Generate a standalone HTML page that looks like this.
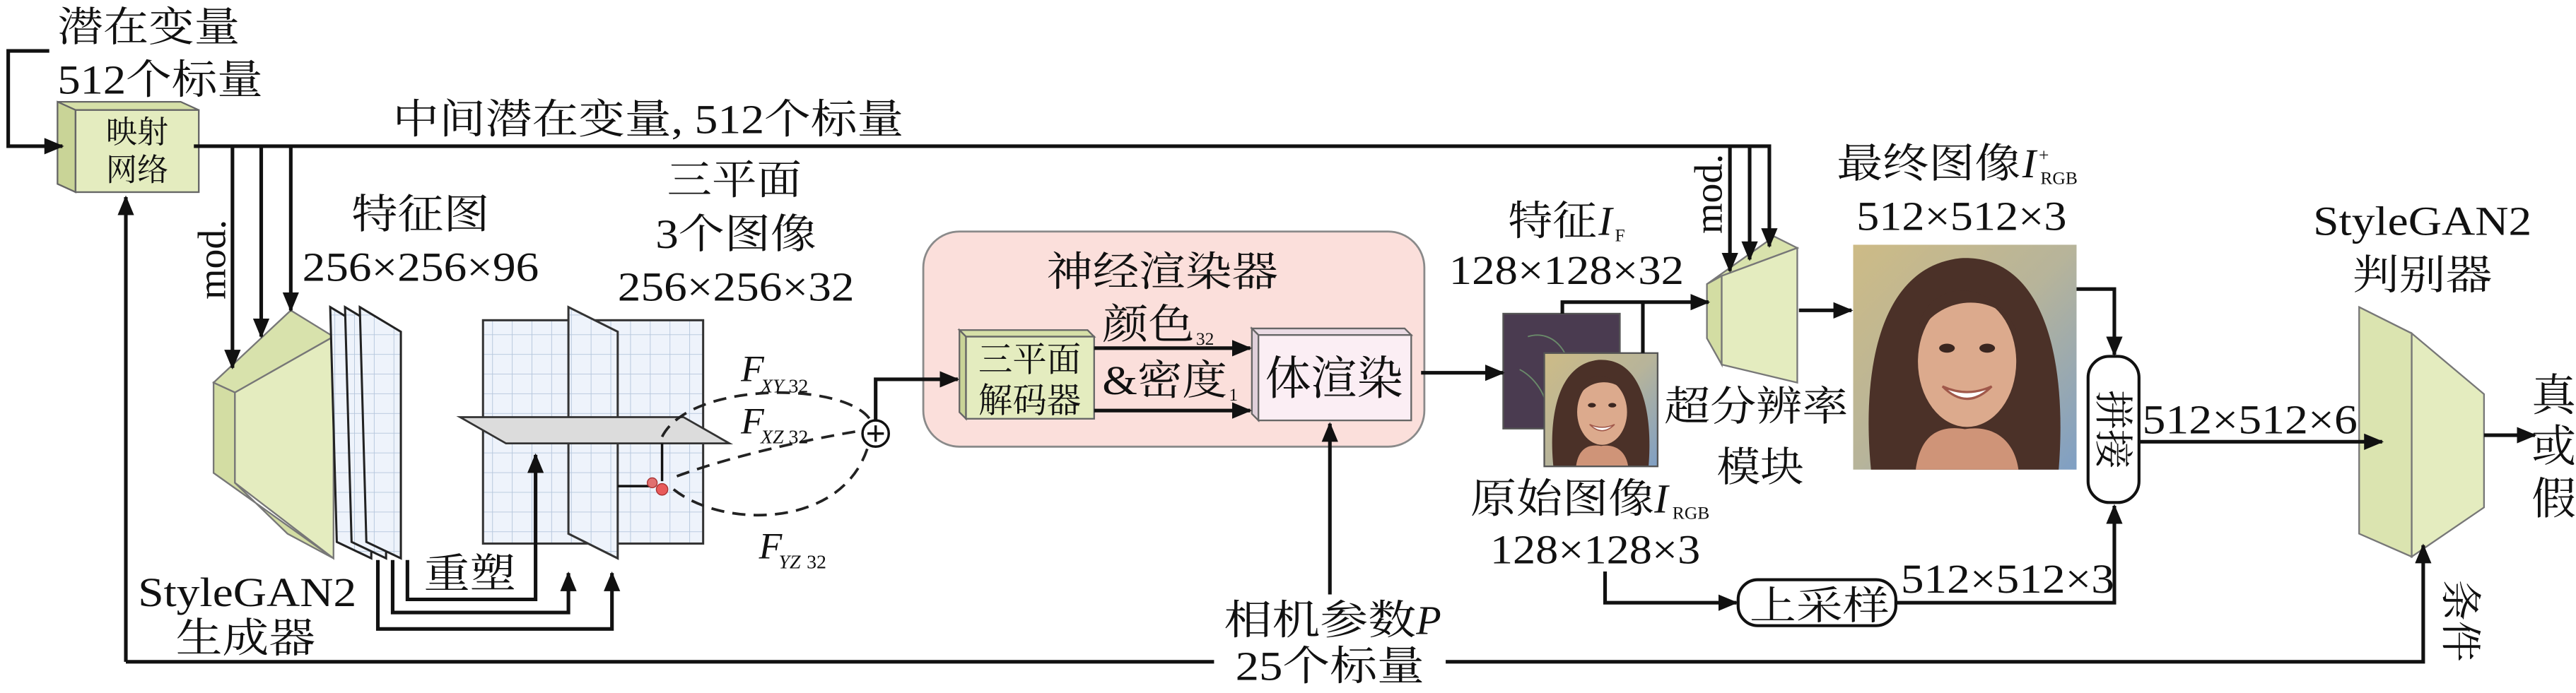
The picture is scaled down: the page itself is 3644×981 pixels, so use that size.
<!DOCTYPE html>
<html><head><meta charset="utf-8"><style>
html,body{margin:0;padding:0;background:#fff;}
svg{display:block;}
text{font-family:"Liberation Serif","Noto Serif CJK SC",serif;fill:#111;}
</style></head><body>
<svg width="3644" height="981" viewBox="0 0 1568 422" preserveAspectRatio="none" xmlns="http://www.w3.org/2000/svg">
<defs>
<marker id="a" markerWidth="12" markerHeight="10" refX="11" refY="5" orient="auto" markerUnits="userSpaceOnUse">
<path d="M0,0 L12,5 L0,10 Z" fill="#111"/></marker>
<linearGradient id="bg" x1="0" y1="0" x2="1" y2="1">
<stop offset="0" stop-color="#cdbb86"/><stop offset="0.5" stop-color="#b7b49a"/><stop offset="1" stop-color="#7f9fc4"/></linearGradient>
<pattern id="grid" width="12" height="12" patternUnits="userSpaceOnUse">
<rect width="12" height="12" fill="#eef3fb"/><path d="M12,0 V12 M0,12 H12" stroke="#b5c6dc" stroke-width="0.8" fill="none"/></pattern>
<symbol id="face" viewBox="0 0 100 100" preserveAspectRatio="none">
<rect width="100" height="100" fill="url(#bg)"/>
<path d="M8,100 C4,60 10,10 48,6 C85,4 96,50 92,100 Z" fill="#4b3128"/>
<path d="M28,100 C30,85 38,80 50,82 C62,80 72,86 74,100 Z" fill="#cf9478"/>
<ellipse cx="51" cy="52" rx="22" ry="29" fill="#dcaa8d"/>
<path d="M29,40 C30,18 60,10 74,40 C68,22 40,20 29,40Z" fill="#4b3128"/>
<ellipse cx="42" cy="46" rx="3.5" ry="2" fill="#3a2620"/><ellipse cx="60" cy="46" rx="3.5" ry="2" fill="#3a2620"/>
<path d="M40,63 Q51,74 62,63 Q51,68 40,63Z" fill="#fff" stroke="#a0584a" stroke-width="1"/>
</symbol>
</defs>

<g stroke="#666" stroke-width="1">
<polygon points="35,62 110,62 121,67 46,67" fill="#d6e0a8"/>
<polygon points="35,62 46,67 46,117 35,112" fill="#c9d497"/>
<rect x="46" y="67" width="75" height="50" fill="#e4ecbf"/>
</g>
<text x="83.5" y="87" font-size="19" text-anchor="middle">映射</text>
<text x="83.5" y="110" font-size="19" text-anchor="middle">网络</text>

<g stroke="#777" stroke-width="1">
<polygon points="130,233 177,189 203,205 143,239" fill="#d8e2ac"/>
<polygon points="130,233 143,239 143,294 175,325 203,340 130,288" fill="#d3dda3"/>
<polygon points="143,239 203,205 203,340 143,294" fill="#e4ecbf"/>
</g>
<g stroke="#222" stroke-width="1.3">
<polygon points="201,187 226,202 226,340 205,330" fill="url(#grid)"/>
<polygon points="210,187 235,202 235,340 214,330" fill="url(#grid)"/>
<polygon points="219,187 244,202 244,340 223,330" fill="url(#grid)"/>
</g>

<rect x="294" y="195" width="134" height="136" fill="url(#grid)" stroke="#333" stroke-width="1.3"/>
<polygon points="346,187 376,202 376,340 346,325" fill="url(#grid)" stroke="#333" stroke-width="1.3"/>
<polygon points="280,254 308,270 444,270 416,254" fill="#dcdcdc" stroke="#333" stroke-width="1.2"/>
<path d="M403,270 V293 M376,296 H396" stroke="#111" stroke-width="1.5"/>
<circle cx="397" cy="294" r="3" fill="#e07070" stroke="#a33" stroke-width="0.6"/>
<circle cx="403" cy="298" r="3.5" fill="#e85a5a" stroke="#a33" stroke-width="0.6"/>
<g stroke="#222" stroke-width="1.6" fill="none" stroke-dasharray="8,5">
<path d="M403,266 C420,232 515,232 530,256"/>
<path d="M412,290 C450,276 500,266 526,262"/>
<path d="M410,298 C440,322 512,322 528,273"/>
</g>

<rect x="562" y="141" width="305" height="131" rx="22" fill="#fbdfdb" stroke="#8a8a8a" stroke-width="1.2"/>
<g stroke="#666" stroke-width="1">
<polygon points="584,201 662,201 666,205 588,205" fill="#d6e0a8"/>
<polygon points="584,201 588,205 588,255 584,251" fill="#c9d497"/>
<rect x="588" y="205" width="78" height="50" fill="#e4ecbf"/>
<polygon points="762,200 855,200 859,204 766,204" fill="#eadbe4"/>
<polygon points="762,200 766,204 766,256 762,252" fill="#e0d0da"/>
<rect x="766" y="204" width="93" height="52" fill="#fbeef4"/>
</g>
<text x="595.5" y="226" font-size="21" textLength="62.5" lengthAdjust="spacingAndGlyphs">三平面</text>
<text x="595.5" y="251" font-size="21" textLength="62.5" lengthAdjust="spacingAndGlyphs">解码器</text>
<text x="770" y="240" font-size="28" textLength="84" lengthAdjust="spacingAndGlyphs">体渲染</text>

<rect x="915" y="191" width="71" height="70" fill="#4a3b50" stroke="#555" stroke-width="1"/>
<path d="M930,205 C945,200 960,215 955,240 M925,225 C935,230 945,245 940,255" stroke="#6a8a6a" stroke-width="0.8" fill="none"/>
<use href="#face" x="940" y="215" width="69" height="69"/>
<rect x="940" y="215" width="69" height="69" fill="none" stroke="#555" stroke-width="1"/>

<g stroke="#777" stroke-width="1">
<polygon points="1039,173 1080,144 1094,151 1048,168" fill="#d8e2ac"/>
<polygon points="1039,173 1048,168 1048,222 1039,206" fill="#d3dda3"/>
<polygon points="1048,168 1094,151 1094,233 1048,222" fill="#e4ecbf"/>
</g>
<use href="#face" x="1128" y="149" width="136" height="137"/>
<g stroke="#777" stroke-width="1">
<polygon points="1436,187 1468,203 1468,339 1436,325" fill="#dbe4b0"/>
<polygon points="1468,203 1512,240 1512,309 1468,339" fill="#e4ecbf"/>
</g>

<g stroke="#111" stroke-width="2.2" fill="none">
<path d="M30,31 H5 V89 H38" marker-end="url(#a)"/>
<path d="M118,89 H1077 V150" marker-end="url(#a)"/>
<path d="M1065,89 V158" marker-end="url(#a)"/>
<path d="M1053,89 V165" marker-end="url(#a)"/>
<path d="M141.5,89 V224" marker-end="url(#a)"/>
<path d="M159,89 V205" marker-end="url(#a)"/>
<path d="M177,89 V189" marker-end="url(#a)"/>
<path d="M76.6,403 V120" marker-end="url(#a)"/>
<path d="M76.6,403 H739"/>
<path d="M880,403 H1475 V332" marker-end="url(#a)"/>
<path d="M230,341 V383 H372.5 V349" marker-end="url(#a)"/>
<path d="M239,341 V373 H346 V349" marker-end="url(#a)"/>
<path d="M248,341 V365 H326 V277" marker-end="url(#a)"/>
<path d="M533,256 V231 H583" marker-end="url(#a)"/>
<path d="M666,212 H761" marker-end="url(#a)"/>
<path d="M666,250 H761" marker-end="url(#a)"/>
<path d="M865,227 H915" marker-end="url(#a)"/>
<path d="M809.5,362 V258" marker-end="url(#a)"/>
<path d="M951,191 V184 H1040" marker-end="url(#a)"/>
<path d="M1000,215 V184"/>
<path d="M1095,189 H1127" marker-end="url(#a)"/>
<path d="M1264,176 H1287 V216" marker-end="url(#a)"/>
<path d="M977,348 V367 H1057" marker-end="url(#a)"/>
<path d="M1154,367 H1287 V308" marker-end="url(#a)"/>
<path d="M1302,269 H1450" marker-end="url(#a)"/>
<path d="M1512,265 H1543" marker-end="url(#a)"/>
</g>

<circle cx="533" cy="264" r="8" fill="#fff" stroke="#111" stroke-width="1.5"/>
<path d="M528,264 H538 M533,259 V269" stroke="#111" stroke-width="1.5"/>

<rect x="1271" y="217" width="31" height="89" rx="13" fill="#fff" stroke="#111" stroke-width="1.8"/>
<text transform="translate(1278,261.5) rotate(90)" font-size="24" text-anchor="middle">拼接</text>
<rect x="1058" y="353" width="96" height="28" rx="12" fill="#fff" stroke="#111" stroke-width="1.8"/>
<text x="1065" y="377" font-size="24" textLength="85" lengthAdjust="spacingAndGlyphs">上采样</text>

<text x="35" y="25" font-size="25" textLength="111" lengthAdjust="spacingAndGlyphs">潜在变量</text>
<text x="35" y="57" font-size="25" textLength="125" lengthAdjust="spacingAndGlyphs">512个标量</text>
<text x="239" y="81" font-size="25" textLength="311" lengthAdjust="spacingAndGlyphs">中间潜在变量, 512个标量</text>
<text transform="translate(137,158) rotate(-90)" font-size="24" text-anchor="middle">mod.</text>
<text transform="translate(1048,118) rotate(-90)" font-size="24" text-anchor="middle">mod.</text>
<text x="214" y="139" font-size="25" textLength="84" lengthAdjust="spacingAndGlyphs">特征图</text>
<text x="184" y="171" font-size="25" textLength="144" lengthAdjust="spacingAndGlyphs">256×256×96</text>
<text x="406" y="118" font-size="25" textLength="82" lengthAdjust="spacingAndGlyphs">三平面</text>
<text x="399" y="151" font-size="25" textLength="98" lengthAdjust="spacingAndGlyphs">3个图像</text>
<text x="376" y="183" font-size="25" textLength="144" lengthAdjust="spacingAndGlyphs">256×256×32</text>
<text x="451" y="232" font-size="23" font-style="italic">F</text><text x="463" y="239" font-size="12" font-style="italic">XY</text><text x="480" y="239" font-size="12">32</text>
<text x="451" y="264" font-size="23" font-style="italic">F</text><text x="463" y="270" font-size="12" font-style="italic">XZ</text><text x="480" y="270" font-size="12">32</text>
<text x="462" y="340" font-size="23" font-style="italic">F</text><text x="474" y="346" font-size="12" font-style="italic">YZ</text><text x="491" y="346" font-size="12">32</text>
<text x="84" y="369" font-size="25" textLength="133" lengthAdjust="spacingAndGlyphs">StyleGAN2</text>
<text x="107" y="397" font-size="25" textLength="85" lengthAdjust="spacingAndGlyphs">生成器</text>
<text x="258" y="358" font-size="25" textLength="56" lengthAdjust="spacingAndGlyphs">重塑</text>
<text x="637" y="174" font-size="25" textLength="141" lengthAdjust="spacingAndGlyphs">神经渲染器</text>
<text x="671" y="206" font-size="25" textLength="56" lengthAdjust="spacingAndGlyphs">颜色</text><text x="728" y="210" font-size="11">32</text>
<text x="671" y="240" font-size="25" textLength="76" lengthAdjust="spacingAndGlyphs">&amp;密度</text><text x="748" y="244" font-size="11">1</text>
<text x="745" y="386" font-size="25" textLength="117" lengthAdjust="spacingAndGlyphs">相机参数</text><text x="862" y="386" font-size="25" font-style="italic">P</text>
<text x="752" y="414" font-size="25" textLength="115" lengthAdjust="spacingAndGlyphs">25个标量</text>
<text x="918" y="143" font-size="25" textLength="54" lengthAdjust="spacingAndGlyphs">特征</text><text x="973" y="143" font-size="25" font-style="italic">I</text><text x="983" y="147" font-size="11">F</text>
<text x="882" y="173" font-size="25" textLength="143" lengthAdjust="spacingAndGlyphs">128×128×32</text>
<text x="895" y="312" font-size="25" textLength="112" lengthAdjust="spacingAndGlyphs">原始图像</text><text x="1007" y="312" font-size="25" font-style="italic">I</text><text x="1018" y="316" font-size="11">RGB</text>
<text x="907" y="343" font-size="25" textLength="128" lengthAdjust="spacingAndGlyphs">128×128×3</text>
<text x="1013" y="256" font-size="25" textLength="112" lengthAdjust="spacingAndGlyphs">超分辨率</text>
<text x="1045" y="293" font-size="25" textLength="53" lengthAdjust="spacingAndGlyphs">模块</text>
<text x="1118" y="108" font-size="25" textLength="112" lengthAdjust="spacingAndGlyphs">最终图像</text><text x="1231" y="108" font-size="25" font-style="italic">I</text><text x="1241" y="98" font-size="11">+</text><text x="1242" y="112" font-size="11">RGB</text>
<text x="1130" y="140" font-size="25" textLength="128" lengthAdjust="spacingAndGlyphs">512×512×3</text>
<text x="1408" y="143" font-size="25" textLength="133" lengthAdjust="spacingAndGlyphs">StyleGAN2</text>
<text x="1432" y="176" font-size="25" textLength="85" lengthAdjust="spacingAndGlyphs">判别器</text>
<text x="1304" y="264" font-size="25" textLength="131" lengthAdjust="spacingAndGlyphs">512×512×6</text>
<text x="1157" y="361" font-size="25" textLength="130" lengthAdjust="spacingAndGlyphs">512×512×3</text>
<text x="1541" y="250" font-size="27">真</text>
<text x="1541" y="281" font-size="27">或</text>
<text x="1541" y="313" font-size="27">假</text>
<text transform="translate(1489,378) rotate(90)" font-size="25" text-anchor="middle">条件</text>
</svg>
</body></html>
